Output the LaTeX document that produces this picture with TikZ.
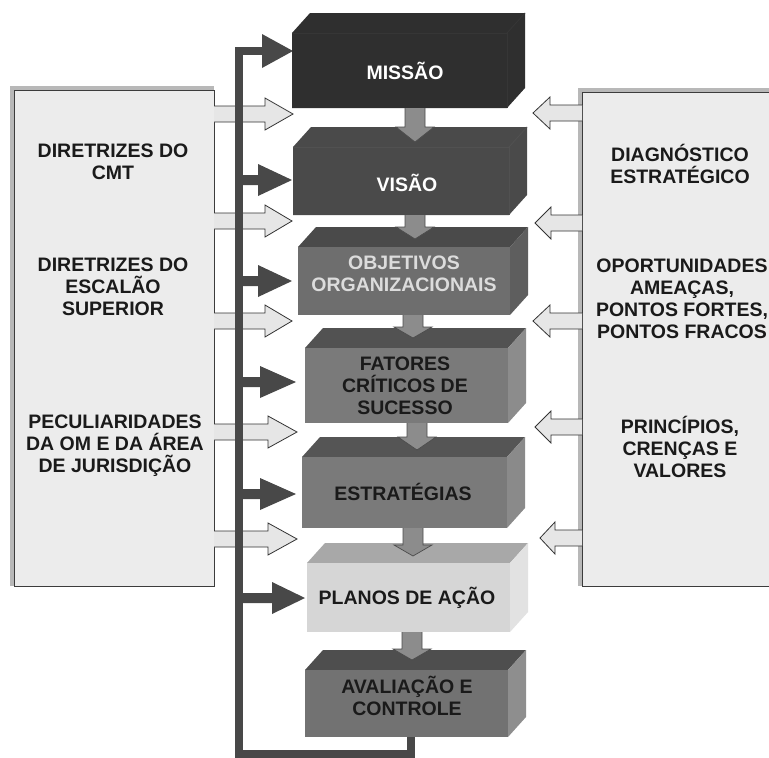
\documentclass[tikz,border=0pt]{standalone}
\usepackage{fontspec}
\setmainfont{Liberation Sans}
\definecolor{panelgray}{HTML}{ECECEC}
\definecolor{panelline}{HTML}{3C3C3C}
\definecolor{shadowgray}{HTML}{B8B8B8}
\definecolor{hollowfill}{HTML}{E6E6E6}
\definecolor{bargray}{HTML}{484848}
\definecolor{downgray}{HTML}{8C8C8C}
\definecolor{cMis}{HTML}{2F2F2F}
\definecolor{cMisL}{HTML}{363636}
\definecolor{cVis}{HTML}{4A4A4A}
\definecolor{cVisL}{HTML}{515151}
\definecolor{cObjF}{HTML}{6E6E6E}
\definecolor{cObjT}{HTML}{4A4A4A}
\definecolor{cObjS}{HTML}{5E5E5E}
\definecolor{cFatF}{HTML}{7A7A7A}
\definecolor{cFatT}{HTML}{525252}
\definecolor{cFatS}{HTML}{8C8C8C}
\definecolor{cEstF}{HTML}{7A7A7A}
\definecolor{cEstT}{HTML}{555555}
\definecolor{cEstS}{HTML}{8A8A8A}
\definecolor{cPlaF}{HTML}{D6D6D6}
\definecolor{cPlaT}{HTML}{A8A8A8}
\definecolor{cPlaS}{HTML}{E2E2E2}
\definecolor{cAvaF}{HTML}{727272}
\definecolor{cAvaT}{HTML}{4E4E4E}
\definecolor{cAvaS}{HTML}{8E8E8E}
\definecolor{objtext}{HTML}{DCDCDC}
\definecolor{ink}{HTML}{1A1A1A}

% hollow arrow pointing right: y, xstart, xbase, xtip
\newcommand\hollowright[4]{%
  \draw[hollow] (#2,#1-8) -- (#3,#1-8) -- (#3,#1-16) -- (#4,#1) -- (#3,#1+16) -- (#3,#1+8) -- (#2,#1+8);}
% hollow arrow pointing left: y, xstart, xbase, xtip
\newcommand\hollowleft[4]{%
  \draw[hollow] (#2,#1-8) -- (#3,#1-8) -- (#3,#1-16) -- (#4,#1) -- (#3,#1+16) -- (#3,#1+8) -- (#2,#1+8);}
% dark arrow from the bar: y, xbase, xtip
\newcommand\darkarrow[3]{%
  \fill[bargray] (239,#1-5) -- (#2,#1-5) -- (#2,#1-16) -- (#3,#1) -- (#2,#1+16) -- (#2,#1+5) -- (239,#1+5) -- cycle;}
% grey down arrow: x, ytop, ybase, ytip
\newcommand\downarrowbox[4]{%
  \draw[down] (#1-10,#2) -- (#1-10,#3) -- (#1-19,#3) -- (#1,#4) -- (#1+19,#3) -- (#1+10,#3) -- (#1+10,#2);}
% 3D box: L, T, R, B, front, top, side
\newcommand\prismbox[7]{%
  \fill[#6] (#1,#2) -- (#1+18,#2-20) -- (#3+18,#2-20) -- (#3,#2) -- cycle;
  \fill[#7] (#3,#2) -- (#3+18,#2-20) -- (#3+18,#4-20) -- (#3,#4) -- cycle;
  \fill[#5] (#1,#2) rectangle (#3,#4);}
% flat bevelled box: L, backtop, frontright, bottom, colour, linecolour
\newcommand\flatbox[6]{%
  \fill[#5] (#1,#2+20) -- (#1+18,#2) -- (#3+18,#2) -- (#3+18,#4-20) -- (#3,#4) -- (#1,#4) -- cycle;
  \draw[#6, line width=0.8pt] (#1,#2+20) -- (#3,#2+20) -- (#3,#4);
  \draw[#6, line width=0.8pt] (#3,#2+20) -- (#3+18,#2);}

\begin{document}
\begin{tikzpicture}[x=1pt,y=-1pt,
  font=\bfseries\fontsize{19.5}{22}\selectfont,
  panel/.style={fill=panelgray, draw=panelline, line width=1.3pt},
  hollow/.style={fill=hollowfill, draw=black!80, line width=0.8pt, line join=miter},
  down/.style={fill=downgray, draw=black!70, line width=0.7pt, line join=miter},
  lbl/.style={align=center, inner sep=0pt, text=ink},
  boxlbl/.style={align=center, inner sep=0pt}]

\useasboundingbox (0,0) rectangle (769,758);
\fill[white] (0,0) rectangle (769,758);

% side panels
\fill[shadowgray] (10,86) rectangle (214,586);
\node[panel, anchor=north west, minimum width=200pt, minimum height=496pt] (leftpanel) at (14,90) {};
\fill[shadowgray] (578,88) rectangle (769,586);
\node[panel, anchor=north west, minimum width=200pt, minimum height=494pt] (rightpanel) at (582,92) {};

% hollow arrows from left panel
\hollowright{114}{214}{265}{293}
\hollowright{221}{214}{265}{292}
\hollowright{321}{214}{265}{292}
\hollowright{432}{214}{268}{297}
\hollowright{539}{214}{268}{297}

% hollow arrows from right panel
\hollowleft{113}{582}{550}{533}
\hollowleft{223}{582}{551}{535}
\hollowleft{321}{582}{550}{533}
\hollowleft{427}{582}{551}{535}
\hollowleft{538}{582}{555}{540}

% feedback loop bar
\coordinate (loopStart) at (411,737);
\coordinate (loopB) at (411,754);
\coordinate (loopC) at (239,754);
\coordinate (loopD) at (239,51);
\coordinate (loopE) at (264,51);
\draw[bargray, line width=8.5pt, line join=miter] (loopStart) -- (loopB) -- (loopC) -- (loopD) -- (loopE);

% dark arrows into the boxes
\fill[bargray] (262,34) -- (293,51) -- (262,68) -- cycle;
\darkarrow{180}{258}{292}
\darkarrow{281}{258}{292}
\darkarrow{382}{260}{296}
\darkarrow{494}{260}{296}
\darkarrow{598}{272}{305}

% central boxes
\flatbox{292}{13}{507}{108}{cMis}{cMisL}
\flatbox{293}{127}{509}{215}{cVis}{cVisL}
\prismbox{298}{247}{510}{315}{cObjF}{cObjT}{cObjS}
\prismbox{305}{348}{508}{423}{cFatF}{cFatT}{cFatS}
\prismbox{302}{457}{507}{528}{cEstF}{cEstT}{cEstS}
\prismbox{307}{563}{510}{632}{cPlaF}{cPlaT}{cPlaS}
\prismbox{305}{670}{508}{737}{cAvaF}{cAvaT}{cAvaS}

% grey down arrows
\downarrowbox{415}{108}{127}{142}
\downarrowbox{415}{215}{227}{239}
\downarrowbox{413}{315}{327}{338}
\downarrowbox{417}{423}{437}{450}
\downarrowbox{413}{528}{545}{556}
\downarrowbox{412}{632}{649}{660}

% box labels
\node[boxlbl, text=white] (missao) at (405,71) {MISSÃO};
\node[boxlbl, text=white] (visao) at (407,183) {VISÃO};
\node[boxlbl, text=objtext] (objetivos) at (404,274) {OBJETIVOS\\ORGANIZACIONAIS};
\node[boxlbl, text=ink] (fatores) at (405,386) {FATORES\\CRÍTICOS DE\\SUCESSO};
\node[boxlbl, text=ink] (estrategias) at (403,492) {ESTRATÉGIAS};
\node[boxlbl, text=ink] (planos) at (407,598) {PLANOS DE AÇÃO};
\node[boxlbl, text=ink] (avaliacao) at (407,696) {AVALIAÇÃO E\\CONTROLE};

% left panel labels
\node[lbl] (cmt) at (113,162) {DIRETRIZES DO\\CMT};
\node[lbl] (escalao) at (113,287) {DIRETRIZES DO\\ESCALÃO\\SUPERIOR};
\node[lbl] (peculiar) at (115,446) {PECULIARIDADES\\DA OM E DA ÁREA\\DE JURISDIÇÃO};

% right panel labels
\node[lbl] (diag) at (680,164) {DIAGNÓSTICO\\ESTRATÉGICO};
\node[lbl] (oport) at (682,299) {OPORTUNIDADES\\AMEAÇAS,\\PONTOS FORTES,\\PONTOS FRACOS};
\node[lbl] (princ) at (680,447) {PRINCÍPIOS,\\CRENÇAS E\\VALORES};
\end{tikzpicture}
\end{document}
